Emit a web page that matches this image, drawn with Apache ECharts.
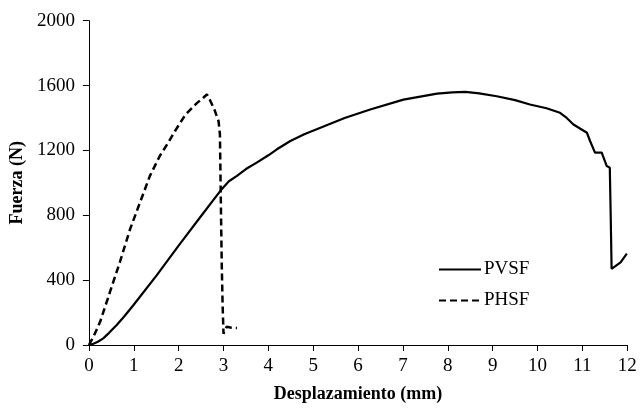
<!DOCTYPE html>
<html>
<head>
<meta charset="utf-8">
<script src="https://cdn.jsdelivr.net/npm/echarts@6/dist/echarts.min.js"></script>
<style>html,body{margin:0;padding:0;background:#fff}#c{width:641px;height:408px}</style>
</head>
<body>
<div id="c"></div>
<script>
var xTicks = [0,1,2,3,4,5,6,7,8,9,10,11,12];
var yTicks = [0,400,800,1200,1600,2000];
var seriesNames = ['PVSF','PHSF'];
var pvsfX = [0,0.1,0.2,0.32,0.45,0.62,0.8,0.99,1.51,2.0,2.48,2.96,3.12,3.3,3.5,3.74,4.0,4.19,4.49,4.8,5.16,5.7,6.27,7.01,7.76,8.1,8.39,8.7,9.09,9.5,9.83,10.2,10.5,10.65,10.8,11.1,11.17,11.28,11.43,11.54,11.61,11.63,11.65,11.69,11.85,11.99];
var pvsfY = [0,8,20,41,75,123,180,245,429,613,788,961,1010,1043,1085,1125,1170,1207,1258,1300,1340,1400,1452,1513,1550,1558,1561,1552,1534,1510,1483,1460,1432,1400,1360,1309,1258,1186,1186,1104,1094,800,470,460,510,563];
var phsfX = [0,0.1,0.25,0.47,0.69,0.92,1.14,1.36,1.58,1.75,1.92,2.15,2.4,2.55,2.63,2.7,2.8,2.89,2.92,2.94,2.96,2.98,3.0,3.02,3.07,3.18,3.3];
var phsfY = [0,50,143,327,511,716,880,1043,1166,1240,1320,1420,1490,1525,1545,1510,1450,1380,1300,900,511,250,70,80,113,107,105];

function pairs(xs, ys){ return xs.map(function(x,i){ return [x, ys[i]]; }); }
var font = 'Liberation Serif';
var chart = echarts.init(document.getElementById('c'));
chart.setOption({
  animation: false,
  backgroundColor: '#fff',
  grid: {left: 88.5, right: 13.7, top: 20.7, bottom: 61.3},
  legend: {
    left: 433, top: 255, orient: 'vertical',
    itemWidth: 42, itemHeight: 14, itemGap: 12,
    itemStyle: {opacity: 0},
    textStyle: {fontFamily: font, fontSize: 19, color: '#000', padding: [0,0,0,-2]},
    data: seriesNames
  },
  xAxis: {
    type: 'value', min: 0, max: 12, interval: 1,
    name: 'Desplazamiento (mm)', nameLocation: 'middle', nameGap: 40,
    nameTextStyle: {fontFamily: font, fontSize: 18, fontWeight: 'bold', color: '#000'},
    axisLine: {lineStyle: {color: '#000', width: 1}},
    axisTick: {show: true, length: 6, lineStyle: {color: '#000'}},
    axisLabel: {fontFamily: font, fontSize: 19, color: '#000', margin: 12,
      formatter: function(v){ return xTicks.indexOf(v) >= 0 ? String(v) : ''; }},
    splitLine: {show: false}
  },
  yAxis: {
    type: 'value', min: 0, max: 2000, interval: 400,
    name: 'Fuerza (N)', nameLocation: 'middle', nameGap: 62, nameRotate: 90,
    nameTextStyle: {fontFamily: font, fontSize: 18, fontWeight: 'bold', color: '#000'},
    axisLine: {show: true, lineStyle: {color: '#000', width: 1}},
    axisTick: {show: true, length: 6, lineStyle: {color: '#000'}},
    axisLabel: {fontFamily: font, fontSize: 19, color: '#000', margin: 14,
      formatter: function(v){ return yTicks.indexOf(v) >= 0 ? String(v) : ''; }},
    splitLine: {show: false}
  },
  series: [
    {name: seriesNames[0], type: 'line', data: pairs(pvsfX, pvsfY), showSymbol: false, symbol: 'none',
     lineStyle: {color: '#000', width: 2.2, type: 'solid'}, itemStyle: {color: '#000'}},
    {name: seriesNames[1], type: 'line', data: pairs(phsfX, phsfY), showSymbol: false, symbol: 'none',
     lineStyle: {color: '#000', width: 2.5, type: [7,4]}, itemStyle: {color: '#000'}}
  ]
});
</script>
</body>
</html>
